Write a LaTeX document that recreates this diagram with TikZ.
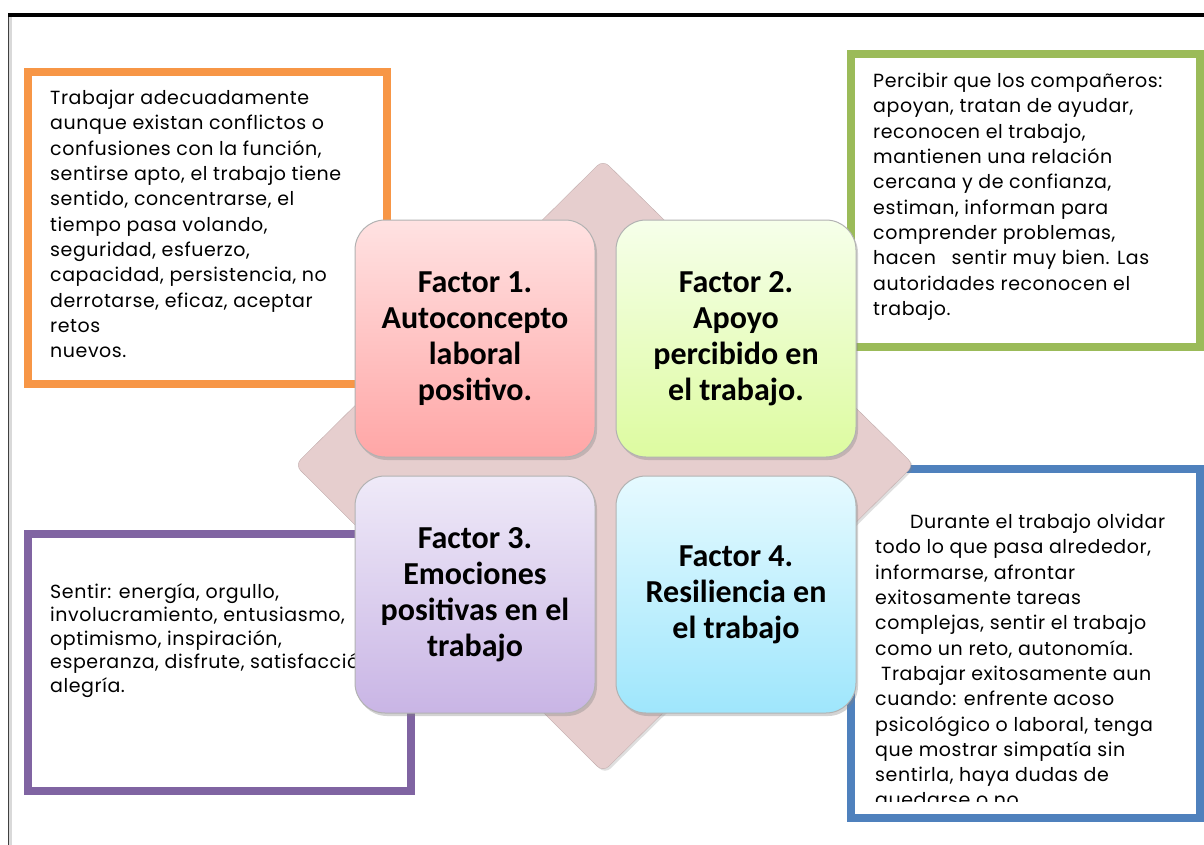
\documentclass[tikz,border=0pt]{standalone}
\usepackage{fontspec}
\setmainfont[LetterSpace=3]{Poppins}
\newfontfamily\factorfont{Carlito}
\usetikzlibrary{shadows}
\definecolor{orx}{RGB}{247,150,70}
\definecolor{grx}{RGB}{155,187,89}
\definecolor{pux}{RGB}{128,100,162}
\definecolor{blx}{RGB}{79,129,189}
\definecolor{dmx}{RGB}{230,206,206}
\tikzset{
    sidebox/.style={line width=8pt,fill=white,inner sep=0pt},
    sidetext/.style={anchor=north west,inner sep=0pt,align=left,
        font=\fontsize{19}{25.3}\selectfont},
    factor/.style={draw=black!30,line width=1pt,rounded corners=30pt,
        minimum width=240pt,minimum height=237pt,inner sep=0pt,align=center,
        font=\factorfont\bfseries\fontsize{32}{36}\selectfont,
        drop shadow={shadow xshift=2pt,shadow yshift=-3pt,opacity=0.35}}
}

\begin{document}
\begin{tikzpicture}[x=1pt,y=-1pt]
    \useasboundingbox (0,0) rectangle (1204,845);
    % page frame
    \fill[black!15] (9,17) rectangle (12,845);
    \draw[black!75,line width=1pt] (8,15) -- (8,845);
    \draw[line width=4pt] (8,15) -- (1204,15);
    % side boxes
    \node [sidebox,draw=orx,minimum width=359pt,minimum height=312pt] (b1) at (207.5,228) {};
    \node [sidebox,draw=grx,minimum width=349pt,minimum height=293pt] (b2) at (1025.5,200.5) {};
    \node [sidebox,draw=pux,minimum width=383pt,minimum height=257pt] (b3) at (219.5,662.5) {};
    \node [sidebox,draw=blx,minimum width=349pt,minimum height=349pt] (b4) at (1025.5,643.5) {};
    \node [sidetext] (t1) at (50,90) {Trabajar adecuadamente\\
        aunque existan conflictos o\\
        confusiones con la función,\\
        sentirse apto, el trabajo tiene\\
        sentido, concentrarse, el\\
        tiempo pasa volando,\\
        seguridad, esfuerzo,\\
        capacidad, persistencia, no\\
        derrotarse, eficaz, aceptar\\
        retos\\
        nuevos.};
    \node [sidetext] (t2) at (873,73) {Percibir que los compañeros:\\
        apoyan, tratan de ayudar,\\
        reconocen el trabajo,\\
        mantienen una relación\\
        cercana y de confianza,\\
        estiman, informan para\\
        comprender problemas,\\
        hacen\hspace{10pt} sentir muy bien. Las\\
        autoridades reconocen el\\
        trabajo.};
    \node [sidetext,font=\fontsize{19}{23.5}\selectfont] (t3) at (50,583) {Sentir: energía, orgullo,\\
        involucramiento, entusiasmo,\\
        optimismo, inspiración,\\
        esperanza, disfrute, satisfacción,\\
        alegría.};
    \begin{scope}
        \clip (855,474) rectangle (1197,801);
        \node [sidetext] (t4) at (875,514) {\hspace*{35pt}Durante el trabajo olvidar\\
            todo lo que pasa alrededor,\\
            informarse, afrontar\\
            exitosamente tareas\\
            complejas, sentir el trabajo\\
            como un reto, autonomía.\\
            \hspace*{6pt}Trabajar exitosamente aun\\
            cuando: enfrente acoso\\
            psicológico o laboral, tenga\\
            que mostrar simpatía sin\\
            sentirla, haya dudas de\\
            quedarse o no.};
    \end{scope}
    % diamond behind the factors
    \draw [fill=dmx,draw=dmx!85!black,rounded corners=8pt,
        drop shadow={shadow xshift=2pt,shadow yshift=-2pt,opacity=0.25}]
        (603,160) -- (914,465) -- (603,772) -- (295,465) -- cycle;
    % factors
    \node [factor,top color={rgb,255:red,255;green,226;blue,226},
        bottom color={rgb,255:red,255;green,166;blue,166}] (f1) at (475,338.5)
        {Factor 1.\\ Autoconcepto\\ laboral\\ positivo.};
    \node [factor,top color={rgb,255:red,246;green,255;blue,234},
        bottom color={rgb,255:red,221;green,251;blue,160}] (f2) at (736,338.5)
        {Factor 2.\\ Apoyo\\ percibido en\\ el trabajo.};
    \node [factor,top color={rgb,255:red,239;green,234;blue,248},
        bottom color={rgb,255:red,201;green,181;blue,229}] (f3) at (475,594.5)
        {Factor 3.\\ Emociones\\ positivas en el\\ trabajo};
    \node [factor,top color={rgb,255:red,230;green,250;blue,255},
        bottom color={rgb,255:red,159;green,230;blue,252}] (f4) at (736,594.5)
        {Factor 4.\\ Resiliencia en\\ el trabajo};
\end{tikzpicture}
\end{document}
